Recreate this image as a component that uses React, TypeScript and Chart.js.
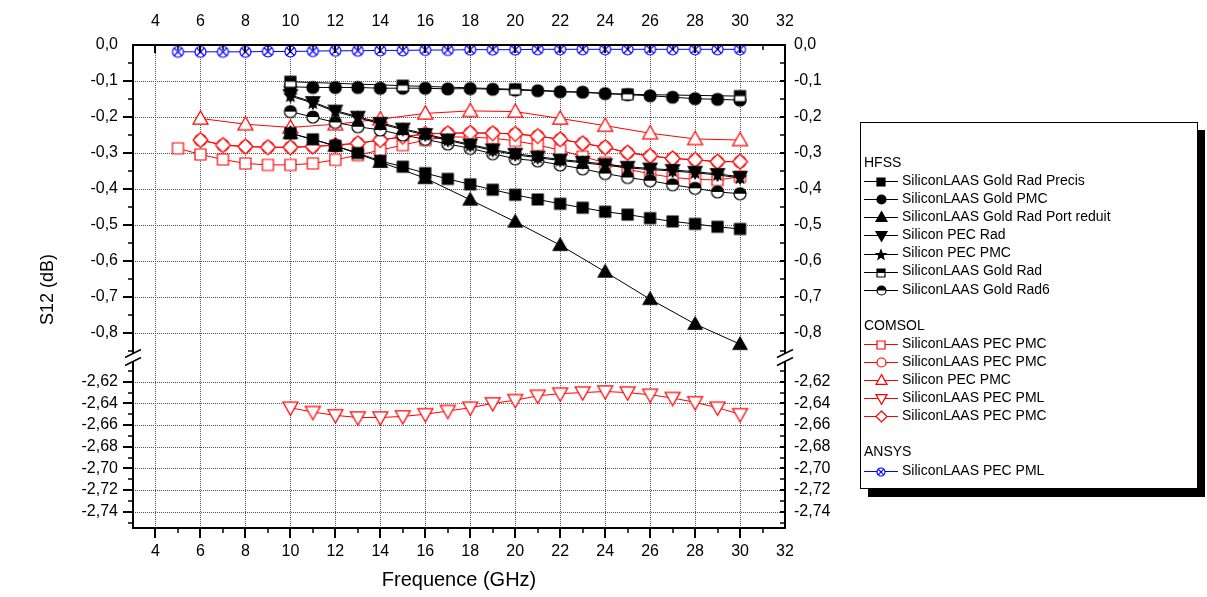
import React, { useEffect, useRef } from 'react';
import { Chart, registerables } from 'chart.js';

Chart.register(...registerables);

// ---------------- data ----------------
const freq5to30 = [5, 6, 7, 8, 9, 10, 11, 12, 13, 14, 15, 16, 17, 18, 19, 20, 21, 22, 23, 24, 25, 26, 27, 28, 29, 30];
const freq6to30 = [6, 7, 8, 9, 10, 11, 12, 13, 14, 15, 16, 17, 18, 19, 20, 21, 22, 23, 24, 25, 26, 27, 28, 29, 30];
const freq10to30 = [10, 11, 12, 13, 14, 15, 16, 17, 18, 19, 20, 21, 22, 23, 24, 25, 26, 27, 28, 29, 30];
const freqEven6to30 = [6, 8, 10, 12, 14, 16, 18, 20, 22, 24, 26, 28, 30];
const freqEven10to30 = [10, 12, 14, 16, 18, 20, 22, 24, 26, 28, 30];
const freqStep5 = [10, 15, 20, 25, 30];

// HFSS
const hfssGoldRadPrecis = [-0.245, -0.262, -0.28, -0.3, -0.322, -0.338, -0.356, -0.372, -0.387, -0.402, -0.416, -0.429, -0.441, -0.452, -0.463, -0.471, -0.481, -0.49, -0.497, -0.505, -0.511];
const hfssGoldPMC = [-0.116, -0.118, -0.118, -0.118, -0.12, -0.12, -0.12, -0.122, -0.121, -0.123, -0.125, -0.127, -0.13, -0.131, -0.135, -0.138, -0.141, -0.145, -0.149, -0.151, -0.153];
const hfssGoldRadPortReduit = [-0.245, -0.28, -0.325, -0.37, -0.43, -0.491, -0.556, -0.63, -0.706, -0.775, -0.831];
const hfssSiliconPECRad = [-0.139, -0.158, -0.182, -0.199, -0.216, -0.232, -0.247, -0.262, -0.276, -0.29, -0.302, -0.31, -0.318, -0.324, -0.331, -0.338, -0.343, -0.347, -0.352, -0.358, -0.366];
const hfssSiliconPECPMC = [-0.142, -0.161, -0.185, -0.202, -0.219, -0.235, -0.25, -0.265, -0.279, -0.293, -0.305, -0.313, -0.321, -0.327, -0.334, -0.341, -0.346, -0.35, -0.355, -0.361, -0.369];
const hfssGoldRad = [-0.102, -0.113, -0.123, -0.137, -0.142];
const hfssGoldRad6 = [-0.185, -0.2, -0.215, -0.227, -0.236, -0.25, -0.262, -0.275, -0.287, -0.302, -0.316, -0.322, -0.333, -0.344, -0.357, -0.368, -0.377, -0.388, -0.398, -0.408, -0.413];

// COMSOL
const comsolSquarePMC = [-0.287, -0.304, -0.318, -0.329, -0.333, -0.333, -0.329, -0.319, -0.306, -0.292, -0.278, -0.264, -0.255, -0.256, -0.259, -0.266, -0.278, -0.292, -0.31, -0.327, -0.345, -0.358, -0.368, -0.373, -0.375, -0.366];
const comsolCirclePMC = [-0.264, -0.278, -0.282, -0.284, -0.284, -0.282, -0.278, -0.273, -0.264, -0.255, -0.247, -0.245, -0.244, -0.245, -0.247, -0.253, -0.262, -0.273, -0.284, -0.299, -0.308, -0.315, -0.319, -0.324, -0.324];
const comsolSiliconPECPMC = [-0.204, -0.22, -0.229, -0.22, -0.206, -0.19, -0.183, -0.185, -0.204, -0.224, -0.245, -0.261, -0.264];
const comsolPML = [-2.644, -2.648, -2.651, -2.653, -2.653, -2.652, -2.65, -2.647, -2.644, -2.64, -2.637, -2.633, -2.631, -2.63, -2.629, -2.63, -2.632, -2.635, -2.639, -2.644, -2.65];
const comsolDiamondPMC = [-0.264, -0.278, -0.282, -0.284, -0.284, -0.282, -0.278, -0.273, -0.264, -0.255, -0.247, -0.245, -0.244, -0.245, -0.247, -0.253, -0.262, -0.273, -0.284, -0.299, -0.308, -0.315, -0.319, -0.324, -0.324];

// ANSYS
const ansysPML = [-0.019, -0.019, -0.019, -0.019, -0.018, -0.018, -0.017, -0.016, -0.016, -0.015, -0.015, -0.014, -0.014, -0.013, -0.013, -0.013, -0.012, -0.012, -0.012, -0.012, -0.012, -0.012, -0.012, -0.012, -0.012, -0.012];

// ticks
const xTickValues = [4, 6, 8, 10, 12, 14, 16, 18, 20, 22, 24, 26, 28, 30, 32];
const yUpperTickValues = [0, -0.1, -0.2, -0.3, -0.4, -0.5, -0.6, -0.7, -0.8];
const yLowerTickValues = [-2.62, -2.64, -2.66, -2.68, -2.7, -2.72, -2.74];

const X_MIN = 3, X_MAX = 32;
const YU_MIN = -0.868, YU_MAX = 0;
const YL_MIN = -2.755, YL_MAX = -2.5976;

const W = 1207, H = 597;
const FONT = '"Liberation Sans", Arial, Helvetica, sans-serif';

// ---------------- markers ----------------
type Kind = 'square' | 'circle' | 'triUp' | 'triDown' | 'diamond' | 'star';

function shapePath(ctx: CanvasRenderingContext2D, kind: Kind, m: number, size: number) {
  const r = size / 2;
  ctx.beginPath();
  if (kind === 'square') ctx.rect(m - r, m - r, size, size);
  else if (kind === 'circle') ctx.arc(m, m, r, 0, Math.PI * 2);
  else if (kind === 'triUp') {
    const h = size * 0.88;
    ctx.moveTo(m, m - h / 2 - 1); ctx.lineTo(m + r, m + h / 2 - 1); ctx.lineTo(m - r, m + h / 2 - 1); ctx.closePath();
  } else if (kind === 'triDown') {
    const h = size * 0.88;
    ctx.moveTo(m, m + h / 2 + 1); ctx.lineTo(m + r, m - h / 2 + 1); ctx.lineTo(m - r, m - h / 2 + 1); ctx.closePath();
  } else if (kind === 'diamond') {
    ctx.moveTo(m, m - r); ctx.lineTo(m + r, m); ctx.lineTo(m, m + r); ctx.lineTo(m - r, m); ctx.closePath();
  } else if (kind === 'star') {
    for (let k = 0; k < 10; k++) {
      const a = -Math.PI / 2 + (k * Math.PI) / 5;
      const rr = k % 2 ? r * 0.42 : r;
      const px = m + rr * Math.cos(a), py = m + rr * Math.sin(a);
      if (k === 0) ctx.moveTo(px, py); else ctx.lineTo(px, py);
    }
    ctx.closePath();
  }
}

function makeMarker(kind: Kind, size: number, color: string, mode: 'filled' | 'open' | 'half' | 'x'): HTMLCanvasElement {
  const d = Math.ceil(size) + 4;
  const c = document.createElement('canvas');
  c.width = d; c.height = d;
  const ctx = c.getContext('2d') as CanvasRenderingContext2D;
  const m = d / 2;
  ctx.lineWidth = 1.2;
  ctx.strokeStyle = color;
  shapePath(ctx, kind, m, size);
  ctx.fillStyle = mode === 'filled' ? color : '#ffffff';
  ctx.fill();
  if (mode === 'half') {
    ctx.save();
    shapePath(ctx, kind, m, size);
    ctx.clip();
    ctx.fillStyle = color;
    ctx.fillRect(0, 0, d, m);
    ctx.restore();
  }
  if (mode === 'x') {
    const q = (size / 2) * 0.72;
    ctx.beginPath();
    ctx.moveTo(m - q, m - q); ctx.lineTo(m + q, m + q);
    ctx.moveTo(m + q, m - q); ctx.lineTo(m - q, m + q);
    ctx.stroke();
  }
  shapePath(ctx, kind, m, size);
  ctx.stroke();
  return c;
}

const fmt1 = (v: number) => (Math.abs(v) < 1e-9 ? '0,0' : v.toFixed(1).replace('.', ','));
const fmt2 = (v: number) => v.toFixed(2).replace('.', ',');

export default function App() {
  const ref = useRef<HTMLCanvasElement>(null);

  useEffect(() => {
    const canvas = ref.current as HTMLCanvasElement;
    const BLACK = '#000000', RED = '#ff0000', BLUE = '#0000ff';

    const mk = {
      bSquare: makeMarker('square', 11, BLACK, 'filled'),
      bCircle: makeMarker('circle', 12, BLACK, 'filled'),
      bTriUp: makeMarker('triUp', 14, BLACK, 'filled'),
      bTriDown: makeMarker('triDown', 14, BLACK, 'filled'),
      bStar: makeMarker('star', 12, BLACK, 'filled'),
      bHalfSquare: makeMarker('square', 11, BLACK, 'half'),
      bHalfCircle: makeMarker('circle', 12, BLACK, 'half'),
      rSquare: makeMarker('square', 11, RED, 'open'),
      rCircle: makeMarker('circle', 12, RED, 'open'),
      rTriUp: makeMarker('triUp', 15, RED, 'open'),
      rTriDown: makeMarker('triDown', 15, RED, 'open'),
      rDiamond: makeMarker('diamond', 15, RED, 'open'),
      uCircleX: makeMarker('circle', 11, BLUE, 'x'),
    };
    const lg = {
      bSquare: makeMarker('square', 8, BLACK, 'filled'),
      bCircle: makeMarker('circle', 9, BLACK, 'filled'),
      bTriUp: makeMarker('triUp', 11, BLACK, 'filled'),
      bTriDown: makeMarker('triDown', 11, BLACK, 'filled'),
      bStar: makeMarker('star', 10, BLACK, 'filled'),
      bHalfSquare: makeMarker('square', 8, BLACK, 'half'),
      bHalfCircle: makeMarker('circle', 9, BLACK, 'half'),
      rSquare: makeMarker('square', 8, RED, 'open'),
      rCircle: makeMarker('circle', 9, RED, 'open'),
      rTriUp: makeMarker('triUp', 11, RED, 'open'),
      rTriDown: makeMarker('triDown', 11, RED, 'open'),
      rDiamond: makeMarker('diamond', 11, RED, 'open'),
      uCircleX: makeMarker('circle', 8, BLUE, 'x'),
    };

    const ds = (label: string, xs: number[], ys: number[], axis: string, color: string, marker: HTMLCanvasElement, order: number) => ({
      label,
      data: xs.map((x, i) => ({ x, y: ys[i] })),
      yAxisID: axis,
      xAxisID: 'x',
      borderColor: color,
      backgroundColor: color,
      borderWidth: 1,
      pointStyle: marker,
      pointRadius: 5,
      pointHoverRadius: 5,
      showLine: true,
      fill: false,
      tension: 0,
      order,
    });

    const datasets = [
      ds('SiliconLAAS Gold Rad Precis', freq10to30, hfssGoldRadPrecis, 'yU', BLACK, mk.bSquare, 3),
      ds('SiliconLAAS Gold PMC', freq10to30, hfssGoldPMC, 'yU', BLACK, mk.bCircle, 4),
      ds('SiliconLAAS Gold Rad Port reduit', freqEven10to30, hfssGoldRadPortReduit, 'yU', BLACK, mk.bTriUp, 5),
      ds('Silicon PEC Rad', freq10to30, hfssSiliconPECRad, 'yU', BLACK, mk.bTriDown, 6),
      ds('Silicon PEC PMC', freq10to30, hfssSiliconPECPMC, 'yU', BLACK, mk.bStar, 7),
      ds('SiliconLAAS Gold Rad', freqStep5, hfssGoldRad, 'yU', BLACK, mk.bHalfSquare, 2),
      ds('SiliconLAAS Gold Rad6', freq10to30, hfssGoldRad6, 'yU', BLACK, mk.bHalfCircle, 8),
      ds('SiliconLAAS PEC PMC', freq5to30, comsolSquarePMC, 'yU', RED, mk.rSquare, 12),
      ds('SiliconLAAS PEC PMC', freq6to30, comsolCirclePMC, 'yU', RED, mk.rCircle, 13),
      ds('Silicon PEC PMC', freqEven6to30, comsolSiliconPECPMC, 'yU', RED, mk.rTriUp, 11),
      ds('SiliconLAAS PEC PML', freq10to30, comsolPML, 'yL', RED, mk.rTriDown, 10),
      ds('SiliconLAAS PEC PMC', freq6to30, comsolDiamondPMC, 'yU', RED, mk.rDiamond, 9),
      ds('SiliconLAAS PEC PML', freq5to30, ansysPML, 'yU', BLUE, mk.uCircleX, 1),
    ];

    const legendItems: { text: string; header?: boolean; color?: string; marker?: HTMLCanvasElement; line: number }[] = [
      { text: 'HFSS', header: true, line: 0 },
      { text: 'SiliconLAAS Gold Rad Precis', color: BLACK, marker: lg.bSquare, line: 1 },
      { text: 'SiliconLAAS Gold PMC', color: BLACK, marker: lg.bCircle, line: 2 },
      { text: 'SiliconLAAS Gold Rad Port reduit', color: BLACK, marker: lg.bTriUp, line: 3 },
      { text: 'Silicon PEC Rad', color: BLACK, marker: lg.bTriDown, line: 4 },
      { text: 'Silicon PEC PMC', color: BLACK, marker: lg.bStar, line: 5 },
      { text: 'SiliconLAAS Gold Rad', color: BLACK, marker: lg.bHalfSquare, line: 6 },
      { text: 'SiliconLAAS Gold Rad6', color: BLACK, marker: lg.bHalfCircle, line: 7 },
      { text: 'COMSOL', header: true, line: 9 },
      { text: 'SiliconLAAS PEC PMC', color: RED, marker: lg.rSquare, line: 10 },
      { text: 'SiliconLAAS PEC PMC', color: RED, marker: lg.rCircle, line: 11 },
      { text: 'Silicon PEC PMC', color: RED, marker: lg.rTriUp, line: 12 },
      { text: 'SiliconLAAS PEC PML', color: RED, marker: lg.rTriDown, line: 13 },
      { text: 'SiliconLAAS PEC PMC', color: RED, marker: lg.rDiamond, line: 14 },
      { text: 'ANSYS', header: true, line: 16 },
      { text: 'SiliconLAAS PEC PML', color: BLUE, marker: lg.uCircleX, line: 17 },
    ];

    const line = (ctx: CanvasRenderingContext2D, x1: number, y1: number, x2: number, y2: number) => {
      ctx.beginPath(); ctx.moveTo(x1, y1); ctx.lineTo(x2, y2); ctx.stroke();
    };

    const decor = {
      id: 'decor',
      beforeDatasetsDraw(chart: any) {
        const ctx = chart.ctx as CanvasRenderingContext2D;
        const ca = chart.chartArea;
        const sx = chart.scales.x, yU = chart.scales.yU, yL = chart.scales.yL;
        ctx.save();
        ctx.strokeStyle = '#555555';
        ctx.lineWidth = 1;
        ctx.setLineDash([1, 1]);
        for (const v of xTickValues) {
          if (v >= X_MAX) continue;
          const px = Math.round(sx.getPixelForValue(v)) + 0.5;
          line(ctx, px, ca.top, px, ca.bottom);
        }
        for (const v of yUpperTickValues) {
          if (v >= YU_MAX) continue;
          const py = Math.round(yU.getPixelForValue(v)) + 0.5;
          line(ctx, ca.left, py, ca.right, py);
        }
        for (const v of yLowerTickValues) {
          const py = Math.round(yL.getPixelForValue(v)) + 0.5;
          line(ctx, ca.left, py, ca.right, py);
        }
        ctx.restore();
      },
      afterDatasetsDraw(chart: any) {
        const ctx = chart.ctx as CanvasRenderingContext2D;
        const ca = chart.chartArea;
        const sx = chart.scales.x, yU = chart.scales.yU, yL = chart.scales.yL;
        const L = ca.left, R = ca.right, T = ca.top, B = ca.bottom;
        const yb = yU.bottom;
        ctx.save();
        ctx.setLineDash([]);
        ctx.strokeStyle = '#000';
        ctx.lineWidth = 2;
        line(ctx, L - 1, T, R + 1, T);
        line(ctx, L - 1, B, R + 1, B);
        line(ctx, L, T, L, yb - 4);
        line(ctx, L, yb + 4, L, B);
        line(ctx, R, T, R, yb - 4);
        line(ctx, R, yb + 4, R, B);
        // break marks
        ctx.lineWidth = 1.5;
        for (const xx of [L, R]) {
          for (const yy of [yb - 4, yb + 4]) line(ctx, xx - 8, yy + 4, xx + 8, yy - 4);
        }
        // y ticks upper
        for (let k = 1; k <= 17; k++) {
          const v = -k * 0.05;
          if (v < YU_MIN) break;
          const py = Math.round(yU.getPixelForValue(v));
          const major = k % 2 === 0;
          ctx.lineWidth = major ? 2 : 1.5;
          line(ctx, L, py, L - (major ? 10 : 5), py);
          line(ctx, R, py, R - 5, py);
        }
        // y ticks lower
        for (let k = 261; k <= 275; k++) {
          const v = -k / 100;
          if (v > YL_MAX || v <= YL_MIN) continue;
          const py = Math.round(yL.getPixelForValue(v));
          const major = k % 2 === 0;
          ctx.lineWidth = major ? 2 : 1.5;
          line(ctx, L, py, L - (major ? 10 : 5), py);
          line(ctx, R, py, R - 5, py);
        }
        // x ticks
        for (let v = 4; v < X_MAX; v++) {
          const px = Math.round(sx.getPixelForValue(v));
          const major = v % 2 === 0;
          ctx.lineWidth = major ? 2 : 1.5;
          line(ctx, px, B, px, B + (major ? 10 : 5));
          line(ctx, px, T, px, T + (major ? 8 : 5));
        }
        ctx.restore();
      },
      afterDraw(chart: any) {
        const ctx = chart.ctx as CanvasRenderingContext2D;
        const ca = chart.chartArea;
        ctx.save();
        ctx.fillStyle = '#000';
        ctx.textAlign = 'center';
        ctx.textBaseline = 'middle';
        ctx.font = `20px ${FONT}`;
        ctx.fillText('Frequence (GHz)', (ca.left + ca.right) / 2, 580);
        ctx.font = `18px ${FONT}`;
        ctx.save();
        ctx.translate(48, (ca.top + ca.bottom) / 2 + 3);
        ctx.rotate(-Math.PI / 2);
        ctx.fillText('S12 (dB)', 0, 0);
        ctx.restore();

        // legend box
        const bx0 = 860, by0 = 122, bx1 = 1197, by1 = 488;
        ctx.fillStyle = '#000';
        ctx.fillRect(bx0 + 8, by0 + 8, bx1 - bx0, by1 - by0 + 1);
        ctx.fillStyle = '#fff';
        ctx.fillRect(bx0, by0, bx1 - bx0, by1 - by0);
        ctx.strokeStyle = '#000';
        ctx.lineWidth = 1;
        ctx.strokeRect(bx0 + 0.5, by0 + 0.5, bx1 - bx0, by1 - by0);

        ctx.font = `14px ${FONT}`;
        ctx.textAlign = 'left';
        ctx.textBaseline = 'middle';
        for (const it of legendItems) {
          const y = 163 + it.line * 18.1;
          if (it.header) {
            ctx.fillStyle = '#000';
            ctx.fillText(it.text, 864, y);
            continue;
          }
          ctx.strokeStyle = it.color as string;
          ctx.lineWidth = 1;
          const yy = Math.round(y) + 0.5;
          line(ctx, 864, yy, 898, yy);
          const mkr = it.marker as HTMLCanvasElement;
          ctx.drawImage(mkr, Math.round(881 - mkr.width / 2), Math.round(yy - mkr.height / 2));
          ctx.fillStyle = '#000';
          ctx.fillText(it.text, 902, y);
        }
        ctx.restore();
      },
    };

    const tickFont = { family: FONT, size: 16 };
    const common = {
      type: 'linear' as const,
      grid: { display: false, drawTicks: false },
      border: { display: false },
    };

    const chart = new Chart(canvas, {
      type: 'line',
      data: { datasets: datasets as any },
      options: {
        responsive: false,
        animation: false,
        events: [],
        layout: { padding: { left: 0, right: 362, top: 0, bottom: 0 } },
        plugins: { legend: { display: false }, tooltip: { enabled: false } },
        scales: {
          x: {
            ...common, position: 'bottom', min: X_MIN, max: X_MAX,
            afterBuildTicks: (s: any) => { s.ticks = xTickValues.map((v) => ({ value: v })); },
            afterFit: (s: any) => { s.height = 69; },
            ticks: { font: tickFont, color: '#000', padding: 14, autoSkip: false, maxRotation: 0, callback: (v: any) => String(v) },
          },
          xTop: {
            ...common, position: 'top', min: X_MIN, max: X_MAX,
            afterBuildTicks: (s: any) => { s.ticks = xTickValues.map((v) => ({ value: v })); },
            afterFit: (s: any) => { s.height = 45; },
            ticks: { font: tickFont, color: '#000', padding: 14, autoSkip: false, maxRotation: 0, callback: (v: any) => String(v) },
          },
          yU: {
            ...common, position: 'left', stack: 'L', stackWeight: 312.5, weight: 2, min: YU_MIN, max: YU_MAX,
            afterBuildTicks: (s: any) => { s.ticks = yUpperTickValues.map((v) => ({ value: v })); },
            afterFit: (s: any) => { s.width = 133; },
            ticks: { font: tickFont, color: '#000', padding: 15, autoSkip: false, callback: (v: any) => fmt1(Number(v)) },
          },
          yL: {
            ...common, position: 'left', stack: 'L', stackWeight: 170.5, weight: 1, min: YL_MIN, max: YL_MAX,
            afterBuildTicks: (s: any) => { s.ticks = yLowerTickValues.map((v) => ({ value: v })); },
            afterFit: (s: any) => { s.width = 133; },
            ticks: { font: tickFont, color: '#000', padding: 15, autoSkip: false, callback: (v: any) => fmt2(Number(v)) },
          },
          yUR: {
            ...common, position: 'right', stack: 'R', stackWeight: 312.5, weight: 1, min: YU_MIN, max: YU_MAX,
            afterBuildTicks: (s: any) => { s.ticks = yUpperTickValues.map((v) => ({ value: v })); },
            afterFit: (s: any) => { s.width = 60; },
            ticks: { font: tickFont, color: '#000', padding: 9, autoSkip: false, callback: (v: any) => fmt1(Number(v)) },
          },
          yLR: {
            ...common, position: 'right', stack: 'R', stackWeight: 170.5, weight: 2, min: YL_MIN, max: YL_MAX,
            afterBuildTicks: (s: any) => { s.ticks = yLowerTickValues.map((v) => ({ value: v })); },
            afterFit: (s: any) => { s.width = 60; },
            ticks: { font: tickFont, color: '#000', padding: 9, autoSkip: false, callback: (v: any) => fmt2(Number(v)) },
          },
        } as any,
      },
      plugins: [decor],
    });

    return () => chart.destroy();
  }, []);

  return (
    <canvas
      ref={ref}
      width={W}
      height={H}
      style={{ position: 'fixed', left: 0, top: 0, display: 'block', background: '#fff' }}
    />
  );
}
